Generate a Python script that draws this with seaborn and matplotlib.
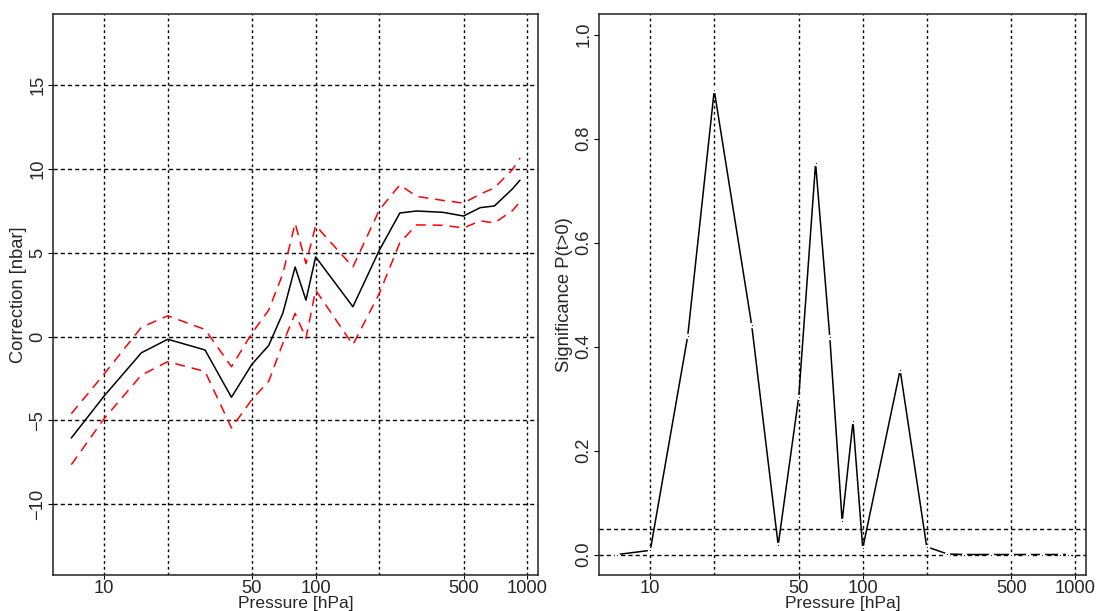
import numpy as np
import pandas as pd
import matplotlib
matplotlib.use("Agg")
import matplotlib.pyplot as plt
import seaborn as sns

# Pressure levels [hPa]
pressure = [7, 10, 15, 20, 30, 40, 50, 60, 70, 80, 90, 100,
            150, 200, 250, 300, 400, 500, 600, 700, 850, 925]

# Correction estimate and its confidence band [nbar]
correction = [-6.05, -3.55, -0.97, -0.16, -0.80, -3.62, -1.65, -0.53, 1.40, 4.15, 2.17, 4.75,
              1.78, 5.15, 7.37, 7.49, 7.41, 7.19, 7.69, 7.79, 8.80, 9.33]
upper = [-4.60, -2.24, 0.55, 1.24, 0.42, -1.80, 0.20, 1.58, 3.75, 6.76, 4.35, 6.62,
         4.15, 7.55, 9.05, 8.36, 8.12, 7.96, 8.50, 8.87, 9.95, 10.65]
lower = [-7.64, -4.90, -2.30, -1.50, -2.08, -5.45, -3.75, -2.67, -0.40, 1.38, -0.10, 2.77,
         -0.49, 2.57, 5.60, 6.66, 6.64, 6.48, 6.90, 6.78, 7.50, 8.04]

# Significance P(t>0)
significance = [0.000, 0.008, 0.42, 0.893, 0.442, 0.018, 0.304, 0.753, 0.418, 0.064, 0.256, 0.012,
                0.355, 0.015, 0.001, 0.000, 0.000, 0.000, 0.000, 0.000, 0.000, 0.000]

grid_x = [10, 20, 50, 100, 200, 500, 1000]
xtick_vals = [10, 50, 100, 500, 1000]
left_yticks = [-10, -5, 0, 5, 10, 15]
right_yticks = [0.0, 0.2, 0.4, 0.6, 0.8, 1.0]
right_hlines = [0.0, 0.05]

df = pd.DataFrame({"pressure": pressure, "correction": correction,
                   "upper": upper, "lower": lower, "significance": significance})

sns.set_style("white")
plt.rcParams["font.family"] = ["Liberation Sans", "DejaVu Sans"]
FS = 13.2
plt.rcParams["font.size"] = FS

fig = plt.figure(figsize=(10.96, 6.11), dpi=100)
ax1 = fig.add_axes([0.04863, 0.05843, 0.44224, 0.91866])
ax2 = fig.add_axes([0.54681, 0.05843, 0.44407, 0.91866])

xlim = (10 ** 0.760, 10 ** 3.051)
vdash = (0, (2.0, 2.2))
hdash = (0, (3.0, 2.2))


def style_axes(ax):
    ax.set_xscale("log")
    ax.set_xlim(*xlim)
    ax.set_xticks(xtick_vals)
    ax.set_xticklabels([str(v) for v in xtick_vals])
    ax.xaxis.set_minor_locator(matplotlib.ticker.NullLocator())
    for s in ax.spines.values():
        s.set_visible(True)
        s.set_color("#222222")
        s.set_linewidth(1.1)
    ax.tick_params(axis="y", which="major", pad=1.5, length=3.5)
    ax.tick_params(axis="x", which="major", pad=0.3, length=3.0)
    ax.tick_params(axis="both", which="major", direction="out",
                   width=0.8, color="black", labelsize=FS,
                   bottom=True, left=True)
    for lab in ax.get_yticklabels():
        lab.set_rotation(90)
        lab.set_va("center")
    for gx in grid_x:
        ax.axvline(gx, color="black", lw=1.0, linestyle=vdash, zorder=1)


# Left panel: correction with confidence band
for gy in left_yticks:
    ax1.axhline(gy, color="black", lw=1.0, linestyle=hdash, zorder=1)
sns.lineplot(data=df, x="pressure", y="upper", ax=ax1, color="red", lw=1.1,
             linestyle=(0, (6.5, 4.5)), zorder=3)
sns.lineplot(data=df, x="pressure", y="lower", ax=ax1, color="red", lw=1.1,
             linestyle=(0, (6.5, 4.5)), zorder=3)
sns.lineplot(data=df, x="pressure", y="correction", ax=ax1, color="black", lw=1.1,
             zorder=4)
ax1.set_ylim(-14.24, 19.24)
ax1.set_yticks(left_yticks)
ax1.set_yticklabels([str(v).replace("-", "\u2212") for v in left_yticks])
style_axes(ax1)
ax1.set_xlabel("Pressure [hPa]", fontsize=12.6, labelpad=-0.6)
ax1.set_ylabel("Correction [nbar]", fontsize=FS, labelpad=2)

# Right panel: significance
for gy in right_hlines:
    ax2.axhline(gy, color="black", lw=1.0, linestyle=hdash, zorder=1)
sns.lineplot(data=df, x="pressure", y="significance", ax=ax2, color="black", lw=1.1,
             marker="o", markersize=2.4, markerfacecolor="black",
             markeredgecolor="white", markeredgewidth=1.6, zorder=4)
ax2.set_ylim(-0.04, 1.04)
ax2.set_yticks(right_yticks)
ax2.set_yticklabels([f"{v:.1f}" for v in right_yticks])
style_axes(ax2)
ax2.set_xlabel("Pressure [hPa]", fontsize=12.6, labelpad=-0.6)
ax2.set_ylabel("Significance P(t>0)", fontsize=FS, labelpad=2)

fig.savefig("out.png", dpi=100)
